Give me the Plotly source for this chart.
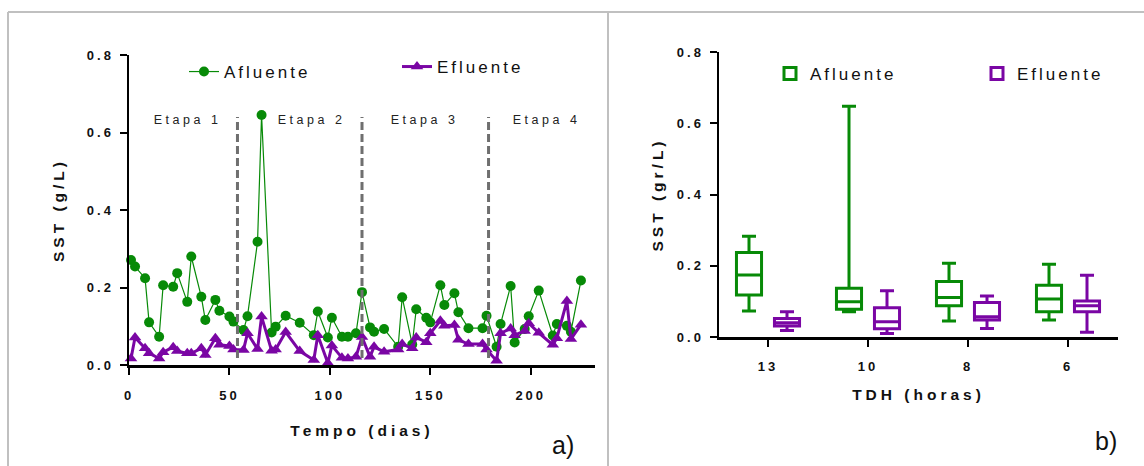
import plotly.graph_objects as go

# ---- panel a) : SST over time ----
days = [1, 3, 8, 10, 15, 17, 22, 24, 29, 31, 36, 38, 43, 45, 50, 52, 57, 59, 64, 66,
        71, 73, 78, 85, 92, 94, 99, 101, 106, 109, 113, 116, 120, 122, 127, 134, 136, 141, 143, 148,
        150, 155, 157, 162, 164, 169, 176, 178, 183, 185, 190, 192, 197, 199, 204, 211, 213, 218, 220, 225]
afluente = [0.271, 0.254, 0.224, 0.110, 0.073, 0.206, 0.202, 0.237, 0.163, 0.280,
            0.176, 0.116, 0.168, 0.140, 0.125, 0.112, 0.090, 0.126, 0.318, 0.645,
            0.084, 0.099, 0.127, 0.109, 0.077, 0.138, 0.071, 0.122, 0.073, 0.073,
            0.082, 0.188, 0.097, 0.086, 0.093, 0.047, 0.175, 0.053, 0.144, 0.122,
            0.110, 0.206, 0.155, 0.185, 0.136, 0.095, 0.095, 0.127, 0.047, 0.106,
            0.204, 0.058, 0.093, 0.126, 0.192, 0.076, 0.106, 0.101, 0.086, 0.218]
efluente = [0.017, 0.071, 0.043, 0.030, 0.017, 0.033, 0.046, 0.036, 0.030, 0.030,
            0.043, 0.026, 0.069, 0.052, 0.049, 0.040, 0.039, 0.082, 0.041, 0.125,
            0.037, 0.040, 0.085, 0.036, 0.013, 0.077, 0.005, 0.050, 0.019, 0.017,
            0.021, 0.072, 0.021, 0.047, 0.034, 0.040, 0.054, 0.043, 0.071, 0.059,
            0.082, 0.114, 0.101, 0.103, 0.065, 0.054, 0.054, 0.040, 0.011, 0.082,
            0.094, 0.077, 0.088, 0.108, 0.083, 0.052, 0.069, 0.165, 0.067, 0.104]
stage_bounds = [54, 116, 179]
stage_labels = ["Etapa 1", "Etapa 2", "Etapa 3", "Etapa 4"]
stage_label_x = [29, 91, 147, 208]

# ---- panel b) : box summaries by TDH ----
tdh = ["13", "10", "8", "6"]
af_lower = [0.073, 0.071, 0.045, 0.048]
af_q1 = [0.118, 0.078, 0.088, 0.071]
af_med = [0.174, 0.099, 0.111, 0.107]
af_q3 = [0.237, 0.137, 0.156, 0.145]
af_upper = [0.283, 0.648, 0.207, 0.204]
ef_lower = [0.018, 0.010, 0.024, 0.013]
ef_q1 = [0.031, 0.023, 0.048, 0.071]
ef_med = [0.040, 0.043, 0.057, 0.088]
ef_q3 = [0.052, 0.082, 0.097, 0.101]
ef_upper = [0.071, 0.130, 0.115, 0.173]

GREEN = "#078a07"
PURPLE = "#7a06a4"
FONT = "Liberation Sans, Arial, sans-serif"
W, H = 1144, 466

fig = go.Figure()

fig.add_trace(go.Scatter(
    x=days, y=afluente, name="Afluente", mode="lines+markers",
    line=dict(color=GREEN, width=1.2),
    marker=dict(symbol="circle", size=10, color=GREEN),
    cliponaxis=False, xaxis="x", yaxis="y", legend="legend", showlegend=True))
fig.add_trace(go.Scatter(
    x=days, y=efluente, name="Efluente", mode="lines+markers",
    line=dict(color=PURPLE, width=3),
    marker=dict(symbol="triangle-up", size=11, color=PURPLE),
    cliponaxis=False, xaxis="x", yaxis="y", legend="legend2", showlegend=True))

fig.add_trace(go.Box(
    x=tdh, q1=af_q1, median=af_med, q3=af_q3, lowerfence=af_lower, upperfence=af_upper,
    name="Afluente", line=dict(color=GREEN, width=3), fillcolor="white",
    whiskerwidth=0.56, offsetgroup="a", xaxis="x2", yaxis="y2", legend="legend3",
    showlegend=True))
fig.add_trace(go.Box(
    x=tdh, q1=ef_q1, median=ef_med, q3=ef_q3, lowerfence=ef_lower, upperfence=ef_upper,
    name="Efluente", line=dict(color=PURPLE, width=3), fillcolor="white",
    whiskerwidth=0.56, offsetgroup="b", xaxis="x2", yaxis="y2", legend="legend4",
    showlegend=True))

# stage dividers and stage names
for b in stage_bounds:
    fig.add_shape(type="line", xref="x", yref="y", x0=b, x1=b, y0=0.018, y1=0.64,
                  line=dict(color="#6f6f6f", width=3, dash="8px,4px"))
for lbl, lx in zip(stage_labels, stage_label_x):
    fig.add_annotation(x=lx, y=0.632, xref="x", yref="y", text=lbl, showarrow=False,
                       font=dict(family=FONT, size=12.5, color="#222"))

# panel frame
frame = dict(color="#c0c0c0", width=2)
top = 1 - 12 / H
fig.add_shape(type="line", xref="paper", yref="paper", x0=8 / W, x1=1, y0=top, y1=top, line=frame)
fig.add_shape(type="line", xref="paper", yref="paper", x0=8 / W, x1=8 / W, y0=0, y1=top, line=frame)
fig.add_shape(type="line", xref="paper", yref="paper", x0=608 / W, x1=608 / W, y0=0, y1=top, line=frame)

fig.add_annotation(x=563 / W, y=1 - 445 / H, xref="paper", yref="paper", text="a)",
                   xanchor="center", yanchor="middle",
                   showarrow=False, font=dict(family=FONT, size=25, color="#111"))
fig.add_annotation(x=1106 / W, y=1 - 441 / H, xref="paper", yref="paper", text="b)",
                   xanchor="center", yanchor="middle",
                   showarrow=False, font=dict(family=FONT, size=25, color="#111"))

tick_font = dict(family=FONT, size=13, color="#111", weight="bold")
title_font = dict(family=FONT, size=15.5, color="#111", weight="bold")
axis_common = dict(showline=True, linecolor="black", linewidth=2.5, ticks="outside",
                   ticklen=7, tickwidth=2, tickcolor="black", showgrid=False,
                   zeroline=False, tickfont=tick_font, fixedrange=True)

legend_common = dict(font=dict(family=FONT, size=17, color="#111"), bgcolor="rgba(0,0,0,0)",
                     orientation="h", xanchor="left", yanchor="middle",
                     entrywidth=100, entrywidthmode="pixels")

fig.update_layout(
    width=W, height=H, margin=dict(l=0, r=0, t=0, b=0, autoexpand=False), showlegend=True,
    paper_bgcolor="white", plot_bgcolor="white", hovermode=False,
    boxmode="group", boxgap=0.24, boxgroupgap=0.34,
    xaxis=dict(domain=[129 / W, 595 / W], range=[0, 232], tickvals=[0, 50, 100, 150, 200],
               ticklabelstandoff=10,
               title=dict(text="Tempo (dias)", font=title_font, standoff=23), **axis_common),
    yaxis=dict(domain=[1 - 365 / H, 1 - 55 / H], range=[0, 0.8], tickvals=[0, 0.2, 0.4, 0.6, 0.8],
               tickformat=".1f", ticklabelstandoff=3,
               title=dict(text="SST (g/L)", font=title_font, standoff=28),
               anchor="x", **axis_common),
    xaxis2=dict(domain=[719 / W, 1118 / W], range=[-0.49, 3.5], type="category",
                ticklabelstandoff=9,
                title=dict(text="TDH (horas)", font=title_font, standoff=16), anchor="y2",
                **axis_common),
    yaxis2=dict(domain=[1 - 337 / H, 1 - 52 / H], range=[0, 0.8], tickvals=[0, 0.2, 0.4, 0.6, 0.8],
                tickformat=".1f", ticklabelstandoff=3,
                title=dict(text="SST (gr/L)", font=title_font, standoff=19),
                anchor="x2", **axis_common),
    legend=dict(x=184 / W, y=1 - 72 / H, **legend_common),
    legend2=dict(x=397 / W, y=1 - 67 / H, **legend_common),
    legend3=dict(x=770 / W, y=1 - 74 / H, **legend_common),
    legend4=dict(x=977 / W, y=1 - 74 / H, **legend_common),
)

# GraphPad-style letter spacing on the rendered labels (stylesheet, so redraws keep it)
spacing_js = """
var st = document.createElement('style');
st.textContent = [
  '.xaxislayer-above text, .yaxislayer-above text { letter-spacing: 3px; }',
  'text.xtitle, text.ytitle, text.x2title, text.y2title { letter-spacing: 4px; }',
  'g.legend text, g.legend2 text, g.legend3 text, g.legend4 text, text.legendtext { letter-spacing: 3px; }',
  '.annotation[data-index="0"] text, .annotation[data-index="1"] text,',
  '.annotation[data-index="2"] text, .annotation[data-index="3"] text { letter-spacing: 3.5px; }'
].join('\\n');
document.head.appendChild(st);
"""

fig.write_html("out.html", post_script=spacing_js, config={"staticPlot": True})
